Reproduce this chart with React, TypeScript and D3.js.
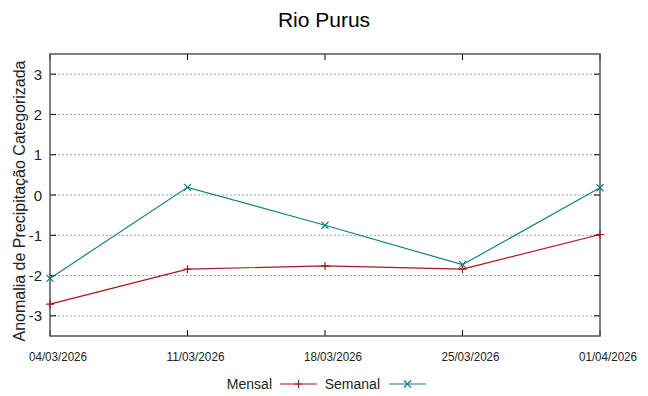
import React from 'react';
import * as d3 from 'd3';

const dates = ['2026-03-04', '2026-03-11', '2026-03-18', '2026-03-25', '2026-04-01'];
const mensal = [-2.71, -1.84, -1.76, -1.84, -0.98];
const semanal = [-2.07, 0.19, -0.75, -1.73, 0.18];
const yTicks = [-3, -2, -1, 0, 1, 2, 3];

const W = 648;
const H = 396;
const margin = { top: 54, right: 48, bottom: 60, left: 50 };
const RED = '#a8161c';
const TEAL = '#12807f';

const parse = d3.timeParse('%Y-%m-%d');
const fmt = d3.timeFormat('%d/%m/%Y');

export default function App() {
  const days = dates.map(d => parse(d) as Date);
  const x = d3.scaleTime()
    .domain([days[0], days[days.length - 1]])
    .range([margin.left, W - margin.right]);
  const y = d3.scaleLinear()
    .domain([-3.5, 3.5])
    .range([H - margin.bottom, margin.top]);

  const line = d3.line<number>()
    .x((_, i) => x(days[i]))
    .y(v => y(v));

  const x0 = margin.left, x1 = W - margin.right;
  const y0 = margin.top, y1 = H - margin.bottom;
  const font = '"Liberation Sans", Arial, sans-serif';

  const plus = (cx: number, cy: number, c: string, k: string) => (
    <path key={k} d={`M${cx - 4},${cy}H${cx + 4}M${cx},${cy - 4}V${cy + 4}`} stroke={c} strokeWidth={1.2} />
  );
  const cross = (cx: number, cy: number, c: string, k: string) => (
    <path key={k} d={`M${cx - 3.5},${cy - 3.5}L${cx + 3.5},${cy + 3.5}M${cx - 3.5},${cy + 3.5}L${cx + 3.5},${cy - 3.5}`} stroke={c} strokeWidth={1.2} />
  );

  return (
    <svg width={W} height={H} style={{ position: 'absolute', left: 0, top: 0, background: '#fff' }} fontFamily={font}>
      <text x={324} y={27} fontSize={21} textAnchor="middle" fill="#000">Rio Purus</text>

      {yTicks.map(t => (
        <g key={t}>
          <line x1={x0} x2={x1} y1={y(t)} y2={y(t)} stroke="#a0a0a0" strokeWidth={1} strokeDasharray="2,2" />
          <line x1={x0} x2={x0 + 6} y1={y(t)} y2={y(t)} stroke="#000" strokeWidth={1} />
          <line x1={x1 - 6} x2={x1} y1={y(t)} y2={y(t)} stroke="#000" strokeWidth={1} />
          <text x={42} y={y(t) + 5.5} fontSize={15} textAnchor="end" fill="#222">{t}</text>
        </g>
      ))}

      {days.map((d, i) => (
        <g key={i}>
          <line x1={x(d)} x2={x(d)} y1={y1} y2={y1 - 6} stroke="#000" strokeWidth={1} />
          <line x1={x(d)} x2={x(d)} y1={y0} y2={y0 + 6} stroke="#000" strokeWidth={1} />
          <text x={x(d) + 8} y={361} fontSize={13.5} textAnchor="middle" fill="#222"
            textLength={58} lengthAdjust="spacingAndGlyphs">{fmt(d)}</text>
        </g>
      ))}

      <rect x={x0} y={y0} width={x1 - x0} height={y1 - y0} fill="none" stroke="#555" strokeWidth={1.5} />

      <text transform={`translate(25,201) rotate(-90)`} fontSize={16} textAnchor="middle" fill="#222">
        Anomalia de Precipitação Categorizada
      </text>

      <path d={line(mensal) || ''} fill="none" stroke={RED} strokeWidth={1.2} />
      <path d={line(semanal) || ''} fill="none" stroke={TEAL} strokeWidth={1.2} />
      {mensal.map((v, i) => plus(x(days[i]), y(v), RED, 'm' + i))}
      {semanal.map((v, i) => cross(x(days[i]), y(v), TEAL, 's' + i))}

      <text x={272} y={389} fontSize={14} textAnchor="end" fill="#222">Mensal</text>
      <line x1={280} x2={317} y1={384} y2={384} stroke={RED} strokeWidth={1.2} />
      {plus(298.5, 384, RED, 'lm')}
      <text x={380} y={389} fontSize={14} textAnchor="end" fill="#222">Semanal</text>
      <line x1={389} x2={426} y1={384} y2={384} stroke={TEAL} strokeWidth={1.2} />
      {cross(407.5, 384, TEAL, 'ls')}
    </svg>
  );
}
